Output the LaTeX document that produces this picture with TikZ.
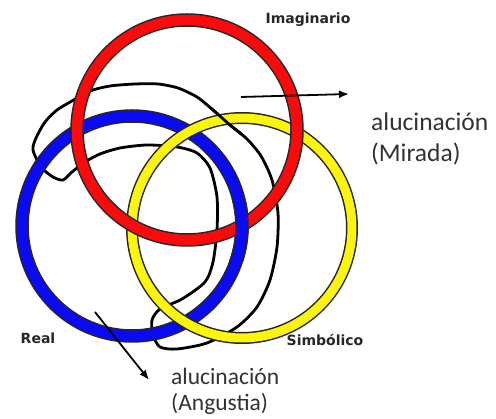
\documentclass[tikz,border=0pt]{standalone}
\usepackage{fontspec}
\setmainfont{Carlito}
\newfontfamily\labelfont{DejaVu Sans}
\usetikzlibrary{arrows.meta}
\definecolor{ringred}{RGB}{250,10,10}
\definecolor{ringblue}{RGB}{10,10,245}
\definecolor{ringyellow}{RGB}{252,245,10}
\definecolor{txtgray}{RGB}{50,50,50}
\tikzset{
  ringedge/.style={draw=black!85, line width=13.5pt},
  redring/.style={draw=ringred, line width=10.5pt},
  bluering/.style={draw=ringblue, line width=10.5pt},
  yellowring/.style={draw=ringyellow, line width=9pt},
  knot/.style={draw=black, line width=2.8pt, line join=round},
  bold label/.style={font=\labelfont\bfseries\fontsize{14}{15}\selectfont, text=black!85, inner sep=0pt},
  note/.style={text=txtgray, inner sep=0pt, align=left},
  pointer/.style={draw=black, line width=1.8pt, -{Latex[length=10pt,width=8pt]}}
}
\newcommand\knotpath{plot[smooth cycle, tension=0.45] coordinates {
 (33,150) (36,138) (45,122) (57,110) (72,101) (90,91) (110,86) (135,84) (158,84)
 (178,88) (197,97) (213,110) (230,125) (247,139) (261,156) (272,180) (278,213)
 (277,247) (270,280) (257,307) (237,327) (207,343) (177,349) (160,347)
 (153,335) (152,320) (160,309) (182,299) (205,282) (213,262) (217,230)
 (217,197) (210,168) (197,153) (177,147) (147,145) (120,148) (100,154)
 (85,162) (72,172) (63,180) (53,177) (41,167)}}
\begin{document}
\begin{tikzpicture}[x=1pt,y=-1pt]
\useasboundingbox (0,0) rectangle (496,419);
% black knot (below the rings)
\draw[knot] \knotpath;
% rings
\coordinate (cb) at (132,226);
\coordinate (cy) at (242,228);
\coordinate (cr) at (187,130);
\draw[ringedge] (cb) circle[radius=110];
\draw[bluering] (cb) circle[radius=110];
\draw[ringedge, line width=12pt] (cy) circle[radius=110];
\draw[yellowring] (cy) circle[radius=110];
\draw[ringedge] (cr) circle[radius=110];
\draw[redring] (cr) circle[radius=110];
% blue over red at lower right crossing
\begin{scope}
\clip (226,200) rectangle (262,262);
\draw[ringedge] (cb) circle[radius=110];
\draw[bluering] (cb) circle[radius=110];
\end{scope}
% knot over yellow at the top crossing
\begin{scope}
\clip (212,104) rectangle (242,136);
\draw[knot] \knotpath;
\end{scope}
% labels
\node[bold label, anchor=base] (imag) at (308,24) {Imaginario};
\node[bold label, anchor=base] (real) at (38,344) {Real};
\node[bold label, anchor=base] (simb) at (325,346) {Simbólico};
\node[note, font=\fontsize{25.5}{30}\selectfont, anchor=base west] (mir1) at (371,131) {alucinación};
\node[note, font=\fontsize{25.5}{30}\selectfont, anchor=base west] (mir2) at (371,162) {(Mirada)};
\node[note, font=\fontsize{23.5}{30}\selectfont, anchor=base west] (ang1) at (171,385) {alucinación};
\node[note, font=\fontsize{23.5}{30}\selectfont, anchor=base west] (ang2) at (171,411) {(Angustia)};
% arrows
\coordinate (m0) at (241,97);
\coordinate (m1) at (349,94);
\coordinate (a0) at (95,312);
\coordinate (a1) at (149,380);
\draw[pointer] (m0) -- (m1);
\draw[pointer] (a0) -- (a1);
\end{tikzpicture}
\end{document}
